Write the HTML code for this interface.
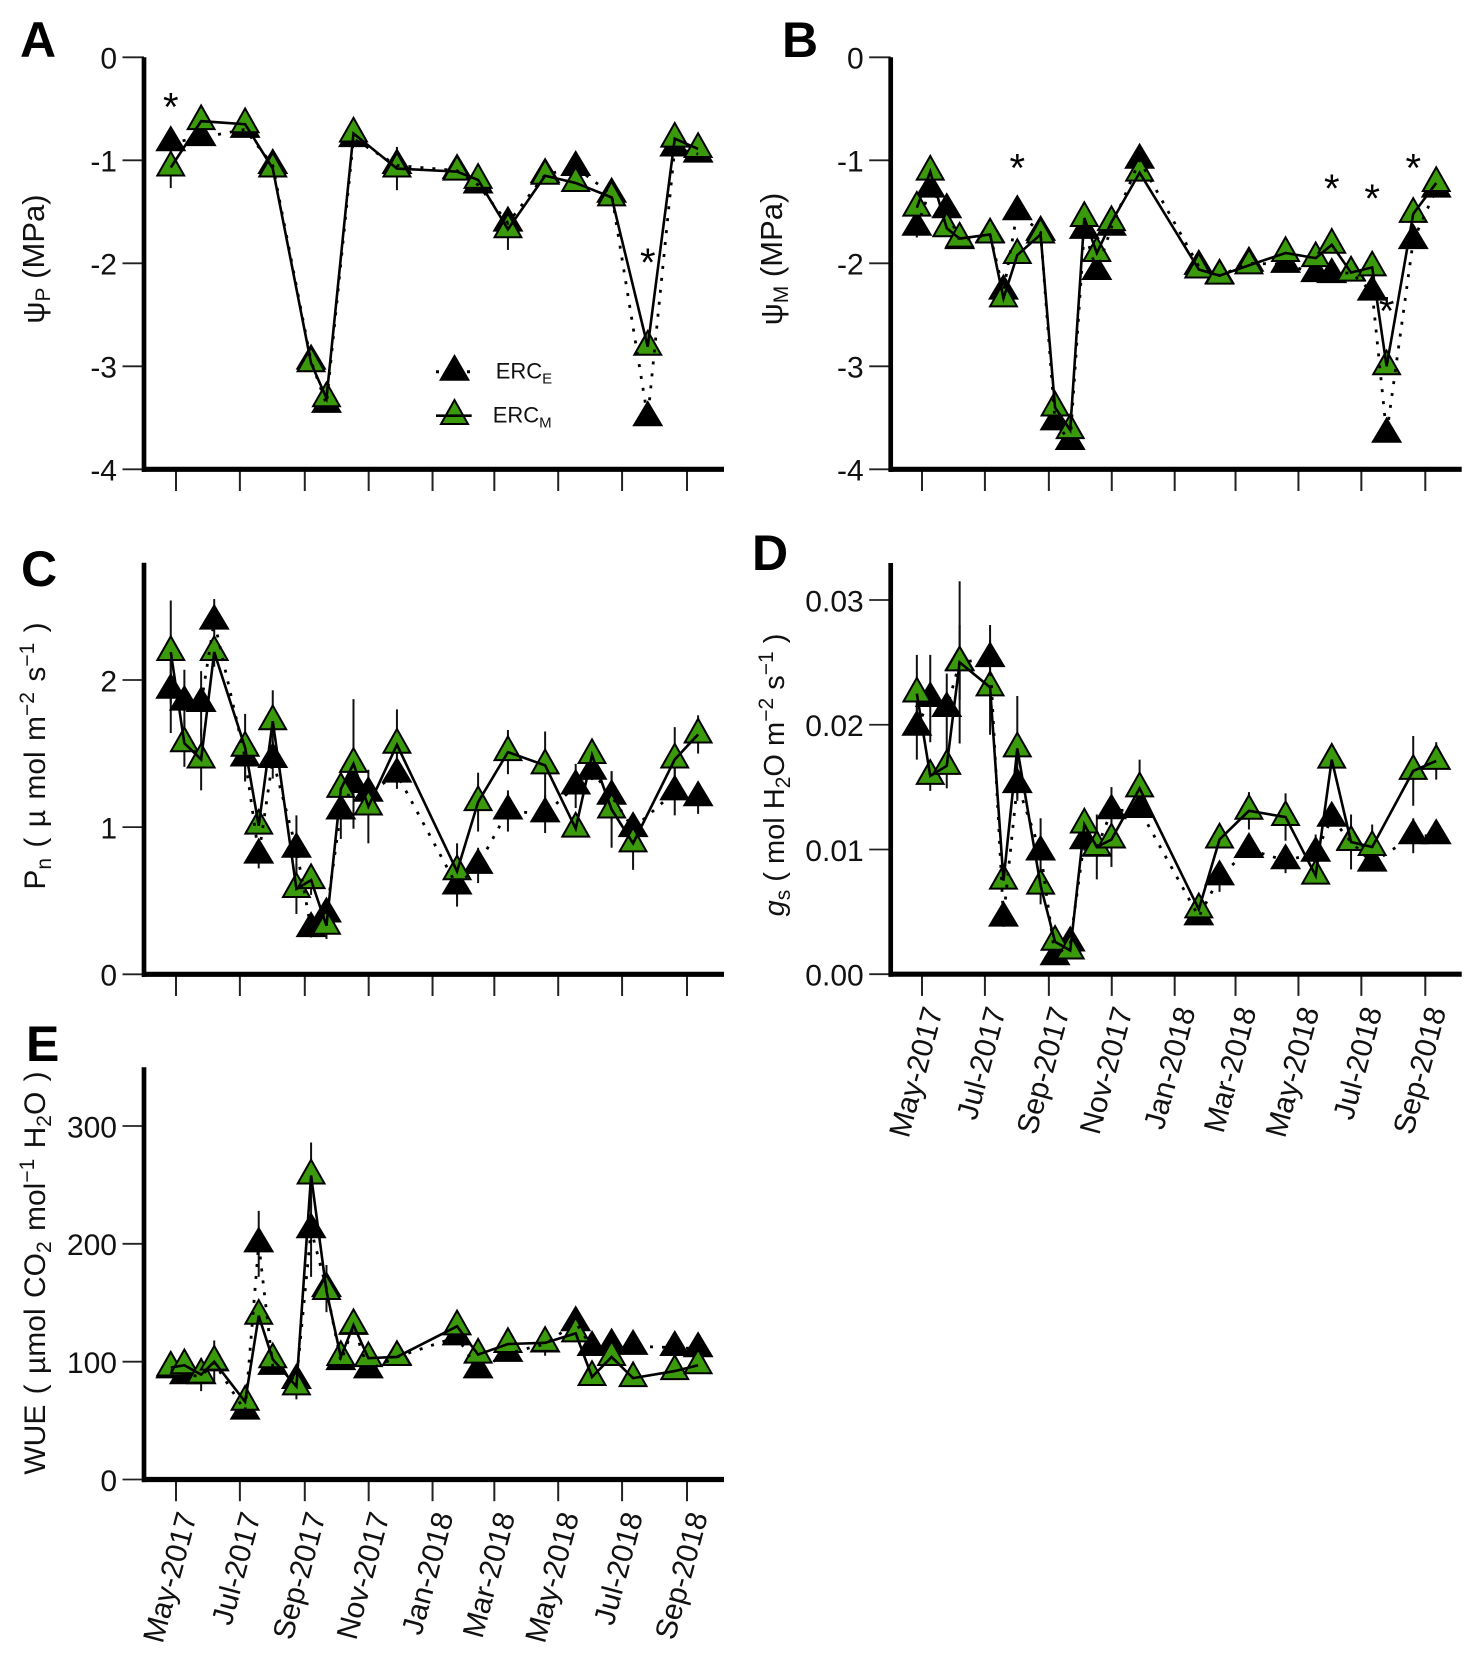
<!DOCTYPE html>
<html lang="en">
<head>
<meta charset="utf-8">
<title>Plant water relations time series</title>
<style>
html,body{margin:0;padding:0;background:#fff;}
svg{display:block;}
text{font-family:"Liberation Sans",sans-serif;fill:#111;}
.letter{font-weight:bold;font-size:50px;fill:#000;}
.title{font-size:30px;}
.sub{font-size:21px;}
.sup{font-size:21px;}
.tick{font-size:30px;}
.month{font-size:30px;}
.leg{font-size:22px;}
.legsub{font-size:15px;}
.star{font-size:40px;fill:#000;}
</style>
</head>
<body>
<svg id="chart" xmlns="http://www.w3.org/2000/svg" width="1476" height="1661" viewBox="0 0 1476 1661">
  <rect x="0" y="0" width="1476" height="1661" fill="#fff"/>

  <text class="letter" x="20" y="57">A</text>
  <text class="letter" x="782" y="57">B</text>
  <text class="letter" x="21" y="586">C</text>
  <text class="letter" x="752" y="570">D</text>
  <text class="letter" x="26" y="1061">E</text>

  <text class="title" font-size="31" style="font-size:31px" transform="translate(44,259) rotate(-90)" text-anchor="middle">ψ<tspan class="sub" dy="6">P</tspan><tspan dy="-6"> (MPa)</tspan></text>
  <text class="title" style="font-size:31px" transform="translate(782,259) rotate(-90)" text-anchor="middle">ψ<tspan class="sub" dy="6">M</tspan><tspan dy="-6"> (MPa)</tspan></text>
  <text class="title" word-spacing="2" transform="translate(45,756) rotate(-90)" text-anchor="middle">P<tspan class="sub" dy="6">n</tspan><tspan dy="-6"> ( µ mol m</tspan><tspan class="sup" dy="-11">−2</tspan><tspan dy="11"> s</tspan><tspan class="sup" dy="-11">−1</tspan><tspan dy="11"> )</tspan></text>
  <text class="title" style="font-size:29px" transform="translate(784,775) rotate(-90)" text-anchor="middle"><tspan font-style="italic">g</tspan><tspan class="sub" dy="6">s</tspan><tspan dy="-6"> ( mol H</tspan><tspan class="sub" dy="6">2</tspan><tspan dy="-6">O m</tspan><tspan class="sup" dy="-11">−2</tspan><tspan dy="11"> s</tspan><tspan class="sup" dy="-11">−1</tspan><tspan dy="11"> )</tspan></text>
  <text class="title" word-spacing="2" transform="translate(45,1273) rotate(-90)" text-anchor="middle">WUE ( µmol CO<tspan class="sub" dy="6">2</tspan><tspan dy="-6"> mol</tspan><tspan class="sup" dy="-11">−1</tspan><tspan dy="11"> H</tspan><tspan class="sub" dy="6">2</tspan><tspan dy="-6">O )</tspan></text>

  <g>
    <line x1="436" y1="371.7" x2="470" y2="371.7" stroke="#000" stroke-width="3" stroke-dasharray="3 28"/>
    <polygon points="454.5,354 439,380.7 470,380.7" fill="#000"/>
    <text class="leg" x="495.7" y="378.3">ERC<tspan class="legsub" dy="5">E</tspan></text>
    <polygon points="454.5,400 441,424 468,424" fill="#3a9a0c" stroke="#000" stroke-width="2"/>
    <line x1="436" y1="415.7" x2="471.7" y2="415.7" stroke="#000" stroke-width="2.6"/>
    <text class="leg" x="492.7" y="422.3">ERC<tspan class="legsub" dy="5">M</tspan></text>
  </g>
</svg>

<script>
// Shared time axis (days since 1 May 2017)
const sampleDays = [-5, 8, 24, 36.5, 66, 79, 92.4, 115, 129, 143.7, 157.4, 169.5, 183.7, 211, 268.4, 288.5, 317, 352.5, 381.7, 397.3, 416, 436.5, 450.5, 476.3, 498.6];
const monthDays = [0, 61, 123, 184, 245, 304, 365, 426, 488];
const monthLabels = ['May-2017', 'Jul-2017', 'Sep-2017', 'Nov-2017', 'Jan-2018', 'Mar-2018', 'May-2018', 'Jul-2018', 'Sep-2018'];

// Panel A: predawn water potential
const aTicks = [0, -1, -2, -3, -4];
const aTickLabels = ['0', '-1', '-2', '-3', '-4'];
const aErcE = [-0.83, null, -0.78, null, -0.70, null, -1.05, null, -2.95, -3.37, null, -0.79, null, -1.05, -1.10, -1.24, -1.61, -1.14, -1.07, null, -1.33, null, -3.50, -0.88, -0.94];
const aErcM = [-1.07, null, -0.62, null, -0.65, null, -1.08, null, -2.97, -3.31, null, -0.74, null, -1.08, -1.11, -1.19, -1.67, -1.15, -1.22, null, -1.36, null, -2.81, -0.79, -0.89];
const aErrE = [0.05, 0, 0.05, 0, 0.03, 0, 0.03, 0, 0.05, 0.03, 0, 0.03, 0, 0.03, 0.03, 0.03, 0.05, 0.03, 0.03, 0, 0.03, 0, 0.03, 0.03, 0.03];
const aErrM = [0.2, 0, 0.03, 0, 0.03, 0, 0.03, 0, 0.03, 0.03, 0, 0.03, 0, 0.21, 0.03, 0.03, 0.2, 0.03, 0.03, 0, 0.03, 0, 0.03, 0.03, 0.03];
const aStarDays = [-5, 450.5];
const aStarValues = [-0.42, -1.93];

// Panel B: midday water potential
const bTicks = [0, -1, -2, -3, -4];
const bTickLabels = ['0', '-1', '-2', '-3', '-4'];
const bErcE = [-1.65, -1.28, -1.48, -1.78, -1.72, -2.27, -1.50, -1.70, -3.54, -3.73, -1.68, -2.08, -1.65, -1.00, -2.03, -2.12, -2.00, -2.01, -2.10, -2.11, -2.09, -2.28, -3.66, -1.78, -1.28];
const bErcM = [-1.46, -1.11, -1.66, -1.76, -1.72, -2.34, -1.92, -1.72, -3.40, -3.62, -1.56, -1.90, -1.60, -1.12, -2.06, -2.12, -2.02, -1.90, -1.95, -1.82, -2.09, -2.04, -3.00, -1.52, -1.22];
const bErrE = [0.1, 0, 0, 0, 0, 0, 0, 0, 0, 0, 0, 0, 0, 0, 0, 0, 0, 0.05, 0, 0, 0, 0, 0, 0, 0];
const bErrM = [0, 0, 0, 0.1, 0, 0, 0, 0, 0, 0, 0, 0, 0, 0, 0, 0, 0, 0, 0, 0, 0, 0, 0, 0, 0];
const bStarDays = [92.4, 397.3, 436.5, 450.5, 476.3];
const bStarValues = [-1.01, -1.21, -1.31, -2.40, -1.01];

// Panel C: net photosynthesis
const cTicks = [0, 1, 2];
const cTickLabels = ['0', '1', '2'];
const cErcE = [1.93, 1.85, 1.84, 2.40, 1.47, 0.81, 1.46, 0.85, 0.31, 0.41, 1.11, 1.29, 1.23, 1.36, 0.60, 0.74, 1.11, 1.09, 1.28, 1.38, 1.21, 0.99, null, 1.24, 1.20];
const cErcM = [2.19, 1.57, 1.46, 2.19, 1.54, 1.01, 1.72, 0.58, 0.64, 0.33, 1.26, 1.43, 1.14, 1.56, 0.70, 1.17, 1.51, 1.42, 0.99, 1.49, 1.12, 0.89, null, 1.46, 1.63];
const cErrE = [0.29, 0.22, 0.22, 0.15, 0.15, 0.09, 0.13, 0.23, 0.06, 0.09, 0.19, 0.30, 0.10, 0.10, 0.14, 0.12, 0.14, 0.13, 0.15, 0.06, 0.17, 0.08, 0, 0.16, 0.11];
const cErrM = [0.35, 0.16, 0.21, 0.10, 0.23, 0.05, 0.21, 0.17, 0.10, 0.09, 0.10, 0.44, 0.25, 0.24, 0.19, 0.20, 0.15, 0.23, 0.05, 0.08, 0.26, 0.18, 0, 0.22, 0.13];

// Panel D: stomatal conductance
const dTicks = [0, 0.01, 0.02, 0.03];
const dTickLabels = ['0.00', '0.01', '0.02', '0.03'];
const dErcE = [0.0198, 0.0221, 0.0213, 0.0250, 0.0253, 0.0045, 0.0152, 0.0098, 0.0014, 0.0025, 0.0107, 0.0101, 0.0131, 0.0132, 0.0046, 0.0078, 0.0100, 0.0091, 0.0097, 0.0125, 0.0106, 0.0089, null, 0.0111, 0.0111];
const dErcM = [0.0225, 0.0159, 0.0167, 0.0250, 0.0230, 0.0075, 0.0181, 0.0071, 0.0026, 0.0019, 0.0120, 0.0102, 0.0108, 0.0149, 0.0052, 0.0108, 0.0131, 0.0126, 0.0079, 0.0172, 0.0106, 0.0102, null, 0.0163, 0.0171];
const dErrE = [0.0026, 0.0035, 0.0028, 0.0030, 0.0027, 0.0007, 0.0011, 0.0027, 0.0004, 0.0004, 0.0008, 0.0005, 0.0019, 0.0005, 0.0004, 0.0012, 0.0004, 0.0010, 0.0015, 0.0006, 0.0005, 0.0005, 0, 0.0014, 0.0006];
const dErrM = [0.0031, 0.0012, 0.0018, 0.0065, 0.0038, 0.0007, 0.0042, 0.0015, 0.0004, 0.0004, 0.0006, 0.0026, 0.0022, 0.0023, 0.0004, 0.0006, 0.0015, 0.0019, 0.0005, 0.0006, 0.0022, 0.0018, 0, 0.0028, 0.0015];

// Panel E: water-use efficiency
const eTicks = [0, 100, 200, 300];
const eTickLabels = ['0', '100', '200', '300'];
const eErcE = [93, 88, 88, 99, 58, 200, 96, 84, 212, 162, 100, 130, 93, 104, 121, 93, 107, 115, 133, 112, 114, 113, null, 112, 111];
const eErcM = [95, 97, 89, 100, 66, 139, 102, 79, 258, 160, 104, 131, 103, 104, 130, 106, 115, 116, 124, 87, 104, 86, null, 92, 97];
const eErrE = [4, 4, 4, 4, 4, 28, 4, 4, 40, 20, 4, 4, 4, 3, 4, 4, 4, 10, 4, 3, 3, 3, 0, 3, 3];
const eErrM = [4, 4, 14, 18, 4, 4, 4, 11, 28, 4, 4, 4, 4, 3, 3, 3, 3, 3, 3, 3, 3, 3, 0, 3, 3];

const NS = 'http://www.w3.org/2000/svg';
const root = document.getElementById('chart');
const GREEN = '#3a9a0c';

function svgEl(parent, tag, attrs) {
  const el = document.createElementNS(NS, tag);
  for (const k in attrs) el.setAttribute(k, attrs[k]);
  parent.appendChild(el);
  return el;
}

function drawPanel(p) {
  const xAt = d => p.day0 + d * (p.day488 - p.day0) / 488;
  const yAt = v => p.yA + (v - p.vA) * (p.yB - p.yA) / (p.vB - p.vA);

  const g = svgEl(root, 'g', {});
  
  

  // y ticks and labels
  p.ticks.forEach((v, i) => {
    const t = svgEl(g, 'line', {x1: p.axisX - 21.5, x2: p.axisX, y1: yAt(v), y2: yAt(v), stroke: '#222', 'stroke-width': 1.8});
    
    
    const lab = svgEl(g, 'text', {class: 'tick', x: p.axisX - 27, y: yAt(v) + 11.3, 'text-anchor': 'end'});
    lab.textContent = p.tickLabels[i];
    
    
  });

  // x ticks and optional labels
  monthDays.forEach((d, i) => {
    const t = svgEl(g, 'line', {x1: xAt(d), x2: xAt(d), y1: p.axisY, y2: p.axisY + 21.7, stroke: '#222', 'stroke-width': 2});
    
    
    if (p.monthText) {
      const ax = xAt(d) + 21, ay = p.axisY + 36;
      const lab = svgEl(g, 'text', {class: 'month', 'text-anchor': 'end', transform: 'translate(' + ax + ',' + ay + ') rotate(-75)'});
      lab.textContent = monthLabels[i];
      
      
    }
  });

  // axes
  const ya = svgEl(g, 'line', {x1: p.axisX, x2: p.axisX, y1: p.axisTop, y2: p.axisY + 2.6, stroke: '#000', 'stroke-width': 4.7});
  
  
  const xa = svgEl(g, 'line', {x1: p.axisX - 2, x2: p.axisEnd, y1: p.axisY, y2: p.axisY, stroke: '#000', 'stroke-width': 5.2});
  
  

  // error bars
  [[p.ercE, p.errE, 'erce'], [p.ercM, p.errM, 'ercm']].forEach(s => {
    s[0].forEach((v, i) => {
      if (v === null || !s[1][i]) return;
      const e = svgEl(g, 'line', {x1: xAt(sampleDays[i]), x2: xAt(sampleDays[i]), y1: yAt(v - s[1][i]), y2: yAt(v + s[1][i]), stroke: '#111', 'stroke-width': 2});
      
      
    });
  });

  // markers
  p.ercE.forEach((v, i) => {
    if (v === null) return;
    const x = xAt(sampleDays[i]), y = yAt(v);
    const m = svgEl(g, 'polygon', {points: x + ',' + (y - 17.5) + ' ' + (x - 15.5) + ',' + (y + 8.5) + ' ' + (x + 15.5) + ',' + (y + 8.5), fill: '#000'});
    
    
  });
  p.ercM.forEach((v, i) => {
    if (v === null) return;
    const x = xAt(sampleDays[i]), y = yAt(v);
    const m = svgEl(g, 'polygon', {points: x + ',' + (y - 15.7) + ' ' + (x - 13.4) + ',' + (y + 8) + ' ' + (x + 13.4) + ',' + (y + 8), fill: GREEN, stroke: '#000', 'stroke-width': 2});
    
    
  });

  // series lines
  const pts = a => a.map((v, i) => v === null ? null : xAt(sampleDays[i]) + ',' + yAt(v)).filter(Boolean).join(' ');
  const dotted = svgEl(g, 'polyline', {points: pts(p.ercE), fill: 'none', stroke: '#000', 'stroke-width': 2.8, 'stroke-dasharray': '3 9'});
  
  
  const solid = svgEl(g, 'polyline', {points: pts(p.ercM), fill: 'none', stroke: '#000', 'stroke-width': 2.6, 'stroke-linejoin': 'miter'});
  
  

  // significance asterisks
  (p.starDays || []).forEach((d, i) => {
    const st = svgEl(g, 'text', {class: 'star', x: xAt(d), y: yAt(p.starValues[i]) + 20, 'text-anchor': 'middle'});
    st.textContent = '*';
    
    
  });
}

const leftCol = {axisX: 144, axisEnd: 724, day0: 176, day488: 687};
const rightCol = {axisX: 890.7, axisEnd: 1461.7, day0: 922, day488: 1425.3};

drawPanel(Object.assign({}, leftCol, {id: 'a', ticks: aTicks, tickLabels: aTickLabels, ercE: aErcE, ercM: aErcM, errE: aErrE, errM: aErrM, starDays: aStarDays, starValues: aStarValues, vA: 0, vB: -4, yA: 57.3, yB: 469.3, axisY: 469.3, axisTop: 57.3, monthText: false}));
drawPanel(Object.assign({}, rightCol, {id: 'b', ticks: bTicks, tickLabels: bTickLabels, ercE: bErcE, ercM: bErcM, errE: bErrE, errM: bErrM, starDays: bStarDays, starValues: bStarValues, vA: 0, vB: -4, yA: 57.3, yB: 469.3, axisY: 469.3, axisTop: 57.3, monthText: false}));
drawPanel(Object.assign({}, leftCol, {id: 'c', ticks: cTicks, tickLabels: cTickLabels, ercE: cErcE, ercM: cErcM, errE: cErrE, errM: cErrM, vA: 0, vB: 2, yA: 974.3, yB: 680, axisY: 974.3, axisTop: 562.7, monthText: false}));
drawPanel(Object.assign({}, rightCol, {id: 'd', ticks: dTicks, tickLabels: dTickLabels, ercE: dErcE, ercM: dErcM, errE: dErrE, errM: dErrM, vA: 0, vB: 0.03, yA: 974.2, yB: 600, axisY: 974.2, axisTop: 563, monthText: true}));
drawPanel(Object.assign({}, leftCol, {id: 'e', ticks: eTicks, tickLabels: eTickLabels, ercE: eErcE, ercM: eErcM, errE: eErrE, errM: eErrM, vA: 0, vB: 300, yA: 1479.5, yB: 1126, axisY: 1479.5, axisTop: 1067.3, monthText: true}));
</script>
</body>
</html>
